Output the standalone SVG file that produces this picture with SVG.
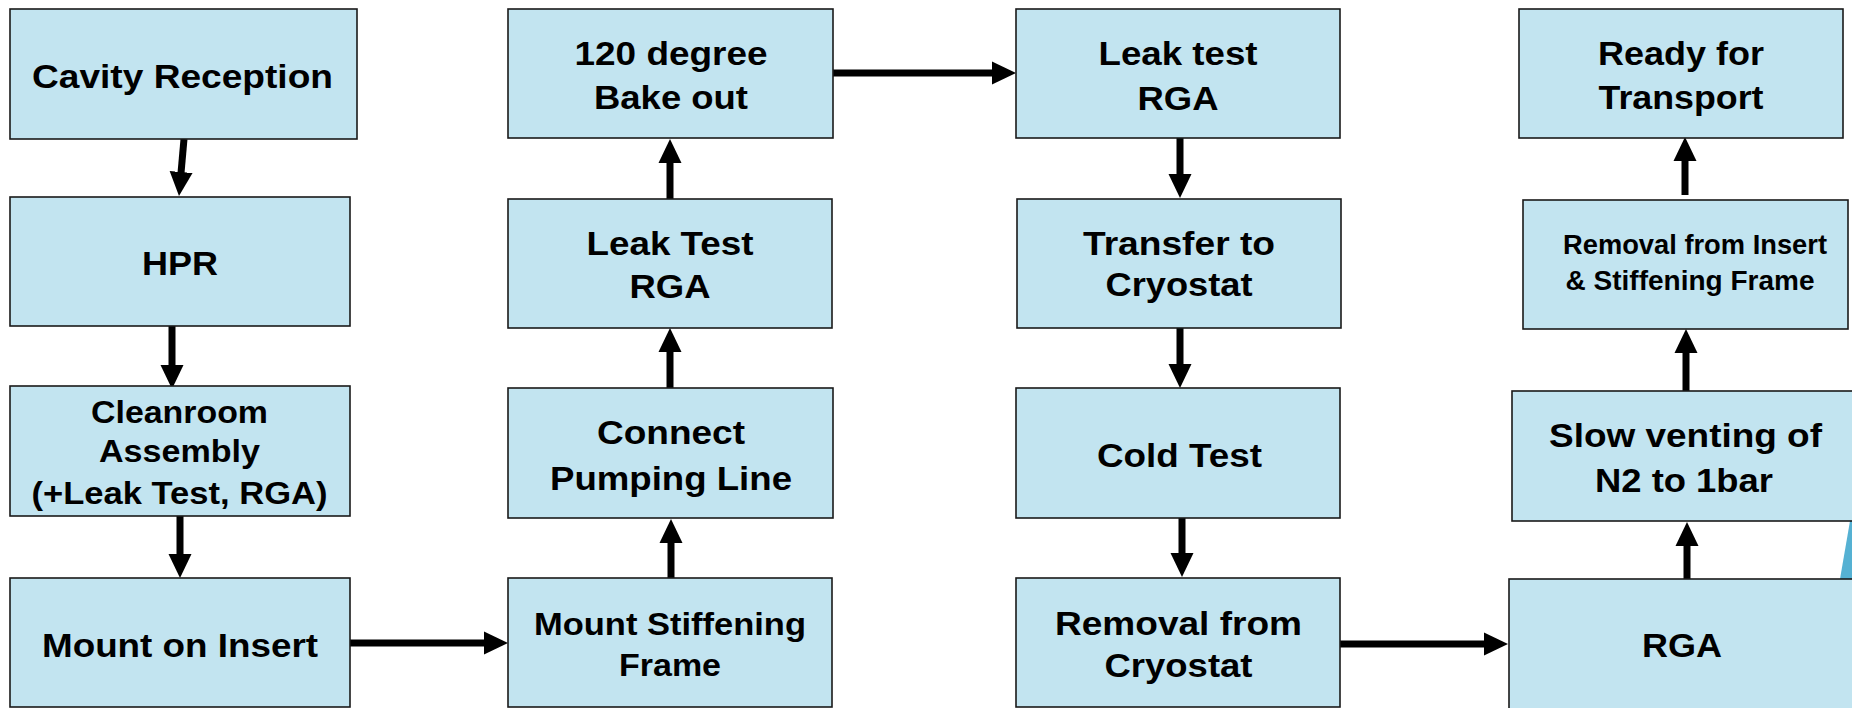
<svg xmlns="http://www.w3.org/2000/svg" width="1852" height="708" viewBox="0 0 1852 708">
<style>
.box{fill:#C2E4F0;stroke:#1a1a1a;stroke-width:1.6}
.t{font-family:"Liberation Sans",Arial,sans-serif;font-weight:bold;font-size:33px;fill:#000;text-anchor:middle}
.s30{font-size:31px}
.s26{font-size:27px}
.c{fill:none;stroke:#000;stroke-width:7}
</style>
<defs>
<marker id="ah" markerUnits="userSpaceOnUse" markerWidth="24" markerHeight="24" refX="1" refY="12" orient="auto" viewBox="0 0 24 24">
<path d="M0,0.5 L24,12 L0,23.5 z" fill="#000"/>
</marker>
</defs>
<rect width="1852" height="708" fill="#fff"/>
<polygon points="1840,579 1850,521 1852,521 1852,579" fill="#55B1D3"/>

<g id="connectors">
<path class="c" d="M184,139 L181,173" marker-end="url(#ah)"/>
<path class="c" d="M172,326 L172,366" marker-end="url(#ah)"/>
<path class="c" d="M180,516 L180,555" marker-end="url(#ah)"/>
<path class="c" d="M350,643 L485,643" marker-end="url(#ah)"/>
<path class="c" d="M671,578 L671,542" marker-end="url(#ah)"/>
<path class="c" d="M670,388 L670,351" marker-end="url(#ah)"/>
<path class="c" d="M670,199 L670,162" marker-end="url(#ah)"/>
<path class="c" d="M833,73 L993,73" marker-end="url(#ah)"/>
<path class="c" d="M1180,138 L1180,175" marker-end="url(#ah)"/>
<path class="c" d="M1180,328 L1180,365" marker-end="url(#ah)"/>
<path class="c" d="M1182,518 L1182,554" marker-end="url(#ah)"/>
<path class="c" d="M1340,644 L1485,644" marker-end="url(#ah)"/>
<path class="c" d="M1687,580 L1687,545" marker-end="url(#ah)"/>
<path class="c" d="M1686,391 L1686,352" marker-end="url(#ah)"/>
<path class="c" d="M1685,195 L1685,160" marker-end="url(#ah)"/>
</g>

<g id="n1"><rect class="box" x="10" y="9" width="347" height="130"/>
<text class="t" x="182.5" y="88" textLength="301" lengthAdjust="spacingAndGlyphs">Cavity Reception</text></g>
<g id="n2"><rect class="box" x="10" y="197" width="340" height="129"/>
<text class="t" x="180" y="275" textLength="76" lengthAdjust="spacingAndGlyphs">HPR</text></g>
<g id="n3"><rect class="box" x="10" y="386" width="340" height="130"/>
<text class="t s30" x="179.5" y="423" textLength="177" lengthAdjust="spacingAndGlyphs">Cleanroom</text>
<text class="t s30" x="179.5" y="462" textLength="161" lengthAdjust="spacingAndGlyphs">Assembly</text>
<text class="t s30" x="179.5" y="504" textLength="296" lengthAdjust="spacingAndGlyphs">(+Leak Test, RGA)</text></g>
<g id="n4"><rect class="box" x="10" y="578" width="340" height="129"/>
<text class="t" x="180" y="657" textLength="276" lengthAdjust="spacingAndGlyphs">Mount on Insert</text></g>

<g id="n5"><rect class="box" x="508" y="9" width="325" height="129"/>
<text class="t" x="671" y="65" textLength="193" lengthAdjust="spacingAndGlyphs">120 degree</text>
<text class="t" x="671" y="109" textLength="154" lengthAdjust="spacingAndGlyphs">Bake out</text></g>
<g id="n6"><rect class="box" x="508" y="199" width="324" height="129"/>
<text class="t" x="670" y="255" textLength="167" lengthAdjust="spacingAndGlyphs">Leak Test</text>
<text class="t" x="670" y="298" textLength="81" lengthAdjust="spacingAndGlyphs">RGA</text></g>
<g id="n7"><rect class="box" x="508" y="388" width="325" height="130"/>
<text class="t" x="671" y="444" textLength="148" lengthAdjust="spacingAndGlyphs">Connect</text>
<text class="t" x="671" y="490" textLength="242" lengthAdjust="spacingAndGlyphs">Pumping Line</text></g>
<g id="n8"><rect class="box" x="508" y="578" width="324" height="129"/>
<text class="t s30" x="670" y="635" textLength="272" lengthAdjust="spacingAndGlyphs">Mount Stiffening</text>
<text class="t s30" x="670" y="676" textLength="102" lengthAdjust="spacingAndGlyphs">Frame</text></g>

<g id="n9"><rect class="box" x="1016" y="9" width="324" height="129"/>
<text class="t" x="1178" y="65" textLength="159" lengthAdjust="spacingAndGlyphs">Leak test</text>
<text class="t" x="1178" y="110" textLength="81" lengthAdjust="spacingAndGlyphs">RGA</text></g>
<g id="n10"><rect class="box" x="1017" y="199" width="324" height="129"/>
<text class="t" x="1179" y="255" textLength="192" lengthAdjust="spacingAndGlyphs">Transfer to</text>
<text class="t" x="1179" y="296" textLength="147" lengthAdjust="spacingAndGlyphs">Cryostat</text></g>
<g id="n11"><rect class="box" x="1016" y="388" width="324" height="130"/>
<text class="t" x="1179.5" y="467" textLength="165" lengthAdjust="spacingAndGlyphs">Cold Test</text></g>
<g id="n12"><rect class="box" x="1016" y="578" width="324" height="129"/>
<text class="t" x="1178.5" y="635" textLength="247" lengthAdjust="spacingAndGlyphs">Removal from</text>
<text class="t" x="1178.5" y="677" textLength="148" lengthAdjust="spacingAndGlyphs">Cryostat</text></g>

<g id="n13"><rect class="box" x="1519" y="9" width="324" height="129"/>
<text class="t" x="1681" y="65" textLength="166" lengthAdjust="spacingAndGlyphs">Ready for</text>
<text class="t" x="1681" y="109" textLength="165" lengthAdjust="spacingAndGlyphs">Transport</text></g>
<g id="n14"><rect class="box" x="1523" y="200" width="325" height="129"/>
<text class="t s26" x="1695" y="254" textLength="264" lengthAdjust="spacingAndGlyphs">Removal from Insert</text>
<text class="t s26" x="1690" y="290" textLength="249" lengthAdjust="spacingAndGlyphs">&amp; Stiffening Frame</text></g>
<g id="n15"><rect class="box" x="1512" y="391" width="360" height="130"/>
<text class="t" x="1685.5" y="447" textLength="273" lengthAdjust="spacingAndGlyphs">Slow venting of</text>
<text class="t" x="1684" y="492" textLength="178" lengthAdjust="spacingAndGlyphs">N2 to 1bar</text></g>
<g id="n16"><rect class="box" x="1509" y="579" width="360" height="140"/>
<text class="t" x="1682" y="657" textLength="80" lengthAdjust="spacingAndGlyphs">RGA</text></g>
</svg>
